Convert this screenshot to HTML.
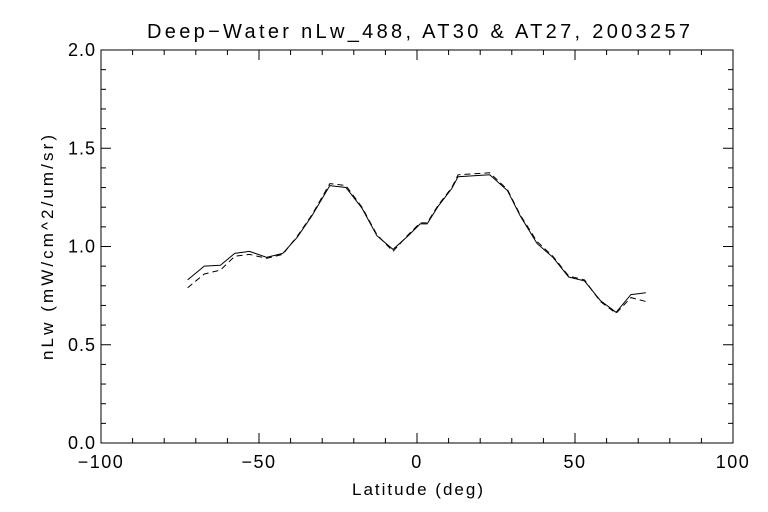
<!DOCTYPE html>
<html><head><meta charset="utf-8"><style>
html,body{margin:0;padding:0;background:#fff;}
svg{display:block;font-family:"Liberation Sans",sans-serif;}
</style></head><body>
<svg id="chart" width="768" height="512">
<text x="147" y="38" font-size="20" textLength="543" lengthAdjust="spacing">Deep−Water nLw_488, AT30 &amp; AT27, 2003257</text>
<text x="352" y="495" font-size="17" textLength="131" lengthAdjust="spacing">Latitude (deg)</text>
<text transform="translate(53,360) rotate(-90)" font-size="17" textLength="225" lengthAdjust="spacing">nLw (mW/cm^2/um/sr)</text>
<g id="axes"></g>
<g id="series"></g>
</svg>
<script>
const lat = [-72.6,-67.3,-62.2,-57.7,-53,-47.6,-42.5,-38,-33.3,-27.6,-22.5,-17.4,-12.7,-7.6,-2.8,1,3.2,6.7,11,13,23,28.6,32.7,38,43,48,53,58,63,67.7,72.4];
const at30 = [0.83,0.90,0.905,0.965,0.975,0.945,0.965,1.045,1.155,1.31,1.30,1.195,1.055,0.985,1.055,1.115,1.115,1.205,1.295,1.355,1.365,1.285,1.155,1.015,0.945,0.845,0.825,0.725,0.665,0.755,0.765];
const at27 = [0.79,0.86,0.88,0.95,0.96,0.94,0.96,1.05,1.16,1.32,1.31,1.20,1.06,0.975,1.06,1.12,1.12,1.21,1.30,1.365,1.375,1.29,1.16,1.025,0.95,0.85,0.83,0.72,0.66,0.74,0.72];
const xTicks = [-100,-50,0,50,100];
const yTicks = [0.0,0.5,1.0,1.5,2.0];
const L=101,R=733,T=50,B=443;
const xs=v=>L+(v+100)/200*(R-L);
const ys=v=>B-v/2*(B-T);
const NS="http://www.w3.org/2000/svg";
function mk(tag,attrs,parent){const e=document.createElementNS(NS,tag);for(const k in attrs)e.setAttribute(k,attrs[k]);parent.appendChild(e);return e;}
const ax=document.getElementById('axes');
const frame=mk('rect',{x:L,y:T,width:R-L,height:B-T,fill:'none',stroke:'#000','stroke-width':1},ax);


for(let v=-100;v<=100;v+=10){const x=xs(v);const big=(v%50===0);const len=big?10:5;
 mk('line',{x1:x,y1:B,x2:x,y2:B-len,stroke:'#000'},ax);mk('line',{x1:x,y1:T,x2:x,y2:T+len,stroke:'#000'},ax);}
for(let i=0;i<=20;i++){const v=i*0.1;const y=ys(v);const big=(i%5===0);const len=big?10:5;
 mk('line',{x1:L,y1:y,x2:L+len,y2:y,stroke:'#000'},ax);mk('line',{x1:R,y1:y,x2:R-len,y2:y,stroke:'#000'},ax);}
xTicks.forEach(v=>{const t=mk('text',{x:xs(v),y:B+25,'font-size':18,'letter-spacing':1.5,'text-anchor':'middle'},ax);t.textContent=(v<0?'−':'')+Math.abs(v);
 
 });
yTicks.forEach(v=>{const t=mk('text',{x:L-5,y:ys(v)+6,'font-size':18,'letter-spacing':1,'text-anchor':'end'},ax);t.textContent=v.toFixed(1);
 
 });
const sg=document.getElementById('series');
function line(vals,dash,name){const d=vals.map((v,i)=>(i?'L':'M')+xs(lat[i]).toFixed(1)+','+ys(v).toFixed(1)).join(' ');
 const p=mk('path',{d:d,fill:'none',stroke:'#000','stroke-width':1},sg);if(dash)p.setAttribute('stroke-dasharray',dash);
 
 }
line(at30,null,'at30-line');
line(at27,'6,4','at27-line');
</script>
</body></html>
